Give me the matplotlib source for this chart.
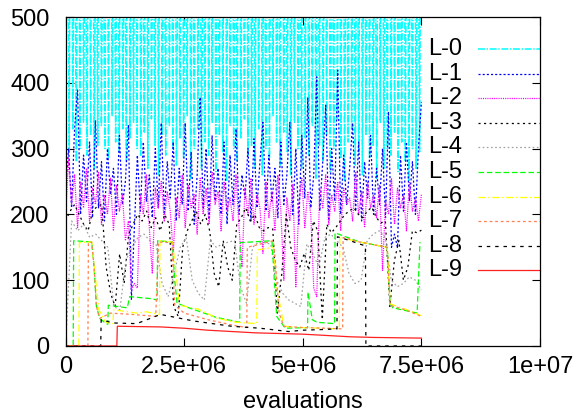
import matplotlib
matplotlib.use('Agg')
import matplotlib.pyplot as plt
import numpy as np

plt.rcParams['font.family'] = ['Liberation Sans', 'DejaVu Sans']
plt.rcParams['lines.scale_dashes'] = False

# ---------------- data ----------------
labels = ['L-0', 'L-1', 'L-2', 'L-3', 'L-4', 'L-5', 'L-6', 'L-7', 'L-8', 'L-9']
x_end = 7.5e6

L0 = [310, 820, 295, 1100, 330, 760, 280, 950, 300, 1300, 340, 700, 290, 880, 320, 1050, 270, 760, 305, 1200,
      335, 690, 300, 940, 285, 1150, 350, 780, 310, 860, 295, 1000, 330, 720, 280, 1250, 315, 800, 340, 930,
      300, 1080, 290, 750, 325, 980, 270, 1180, 345, 710, 305, 890, 260, 1020, 320, 770, 290, 1300, 335, 840,
      300, 960, 275, 730, 315, 1100, 285, 820, 350, 990, 255, 760, 300, 1220, 330, 880, 270, 700, 310, 1040,
      290, 800, 340, 1150, 265, 750, 320, 930, 295, 1280, 250, 810, 335, 980, 300, 720, 280, 1060, 315, 870,
      345, 940, 290, 1190, 305, 760, 270, 890, 330, 1010, 260, 740, 300, 1230, 285, 830, 350, 970, 310, 700,
      275, 1120, 325, 850, 295, 960, 260, 780, 340, 1070, 300, 720, 270, 1260, 315, 890, 290, 800, 335, 1000,
      255, 760, 305, 1150, 280, 870, 320, 940, 265, 710, 300, 1090, 345, 830, 285, 980, 250, 760, 310, 1200,
      330, 880, 275, 730, 295, 1030, 260, 810, 320, 950, 285, 1170, 305, 740, 255, 900, 340, 1010, 270, 780,
      300, 1240, 290, 850, 325, 960, 265, 720, 310, 1080, 280, 900, 250, 800, 300, 1000, 270, 760, 295, 900]

L1 = [240, 300, 210, 330, 389, 200, 290, 220, 310, 195,
      343, 210, 280, 190, 300, 230, 270, 200, 320, 215,
      250, 336, 70, 180, 290, 205, 310, 220, 260, 195,
      300, 210, 339, 200, 280, 225, 310, 190, 270, 215,
      339, 205, 295, 185, 260, 378, 210, 300, 195, 320,
      220, 270, 200, 310, 185, 290, 215, 330, 200, 260,
      225, 300, 190, 315, 210, 280, 340, 205, 290, 220,
      270, 195, 310, 215, 260, 340, 200, 300, 185, 320,
      225, 377, 210, 260, 409, 205, 280, 366, 190, 300,
      220, 419, 200, 290, 215, 270, 339, 205, 310, 190,
      280, 225, 320, 200, 270, 215, 300, 195, 356, 150,
      170, 150, 290, 205, 310, 220, 280, 200, 300, 371]

L2 = [200, 285, 215, 260, 180, 250, 210, 270, 190, 240,
      215, 265, 185, 230, 200, 255, 175, 245, 205, 230,
      160, 190, 85, 95, 88, 230, 200, 260, 180, 110,
      240, 210, 250, 190, 235, 205, 141, 225, 195, 260,
      180, 245, 210, 230, 170, 255, 200, 240, 185, 265,
      215, 235, 175, 250, 205, 225, 190, 260, 180, 120,
      240, 200, 255, 185, 230, 210, 141, 250, 195, 235,
      175, 260, 205, 100, 225, 190, 245, 90, 215, 255,
      180, 235, 200, 88, 75, 240, 210, 260, 185, 230,
      205, 250, 175, 240, 215, 225, 190, 265, 200, 235,
      180, 250, 210, 230, 195, 245, 115, 220, 200, 255,
      185, 240, 210, 230, 175, 250, 205, 225, 190, 230]

L3 = [190, 205, 215, 200, 185, 175, 205, 212, 215, 120,
      80, 60, 140, 95, 170, 185, 200, 190, 205, 180,
      195, 175, 200, 185, 60, 45, 150, 175, 190, 205,
      185, 200, 175, 110, 90, 160, 120, 100, 185, 195,
      210, 190, 200, 180, 175, 180, 178, 50, 110, 200,
      150, 130, 120, 141, 115, 190, 175, 40, 185, 172,
      180, 190, 200, 205, 210, 200, 195, 205, 211, 195,
      187, 190, 60, 130, 160, 100, 120, 175, 172, 176]

L4 = [0, 190, 175, 185, 165, 170, 160, 150, 60, 55,
      130, 150, 165, 170, 160, 155, 95, 75, 110, 150,
      165, 100, 80, 70, 160, 150, 155, 158, 160, 90,
      65, 150, 158, 157, 155, 100, 80, 70, 65, 60,
      155, 140, 120, 165, 170, 160, 150, 110, 95, 100,
      160, 170, 175, 165, 100, 90, 95, 105, 100, 85]

L5_x = [0, 0.16e6, 0.17e6, 0.55e6, 0.6e6, 0.65e6, 0.72e6, 0.85e6, 0.89e6, 0.9e6, 1.3e6, 1.35e6, 1.8e6,
        1.93e6, 1.94e6, 2.25e6, 2.3e6, 2.35e6, 2.6e6, 3.0e6, 3.15e6, 3.67e6, 3.68e6, 4.35e6, 4.4e6,
        4.45e6, 4.63e6, 5.1e6, 5.11e6, 5.2e6, 5.3e6, 5.67e6, 5.68e6, 6.2e6, 6.78e6, 6.84e6, 6.9e6,
        7.41e6, 7.47e6]
L5_y = [0, 0, 160, 158, 120, 60, 42, 34, 33, 62, 58, 75, 72, 70, 160, 158, 100, 65, 58, 48, 44, 36, 157,
        160, 100, 45, 27, 28, 82, 40, 36, 34, 172, 158, 150, 65, 58, 50, 158]

L6_x = [0, 0.28e6, 0.29e6, 0.55e6, 0.62e6, 0.7e6, 0.85e6, 1.0e6, 1.01e6, 1.5e6, 1.7e6, 1.98e6, 1.99e6,
        2.25e6, 2.33e6, 2.4e6, 2.8e6, 3.2e6, 3.6e6, 4.03e6, 4.04e6, 4.38e6, 4.45e6, 4.6e6, 5.0e6,
        5.4e6, 5.77e6, 5.78e6, 6.2e6, 6.78e6, 6.84e6, 7.2e6, 7.5e6]
L6_y = [0, 0, 157, 158, 110, 55, 36, 34, 55, 50, 52, 48, 160, 158, 110, 62, 56, 42, 36, 34, 146, 150,
        90, 30, 28, 27, 26, 165, 158, 150, 64, 55, 46]

L7_x = [0, 0.47e6, 0.48e6, 0.55e6, 0.6e6, 0.65e6, 0.72e6, 0.95e6, 1.4e6, 1.9e6, 1.96e6, 2.24e6, 2.3e6,
        2.5e6, 3.0e6, 3.5e6, 3.82e6, 3.83e6, 4.38e6, 4.42e6, 4.5e6, 4.6e6, 5.0e6, 5.5e6, 5.84e6,
        5.85e6, 6.2e6, 6.78e6, 6.84e6, 7.2e6, 7.5e6]
L7_y = [0, 0, 157, 158, 120, 60, 42, 50, 48, 45, 158, 157, 62, 50, 40, 32, 28, 150, 160, 130, 50, 30,
        28, 27, 26, 165, 158, 150, 62, 54, 45]

L8_x = [0, 0.74e6, 0.75e6, 1.0e6, 1.5e6, 2.0e6, 2.7e6, 3.5e6, 4.1e6, 4.7e6, 5.0e6, 5.4e6, 5.72e6,
        5.73e6, 6.0e6, 6.32e6, 6.33e6, 7.5e6]
L8_y = [0, 0, 40, 35, 34, 48, 38, 30, 27, 22, 24, 25, 26, 166, 160, 152, 0, 0]

L9_x = [0, 1.08e6, 1.09e6, 2.0e6, 2.5e6, 3.0e6, 3.5e6, 4.0e6, 4.5e6, 5.0e6, 5.5e6, 6.0e6, 6.5e6,
        7.0e6, 7.5e6]
L9_y = [0, 0, 30, 29, 27, 24, 22, 20, 19, 18, 16, 14, 13, 12.5, 12]

x_ticks = [0, 2.5e6, 5e6, 7.5e6, 1e7]
x_tick_labels = ['0', '2.5e+06', '5e+06', '7.5e+06', '1e+07']
y_ticks = [0, 100, 200, 300, 400, 500]

# ---------------- styles ----------------
styles = [
    dict(color='#00ffff', dashes=(5, 1.2, 1, 1.2)),
    dict(color='#0000ff', dashes=(1.5, 1.5)),
    dict(color='#ff00ff', dashes=(0.8, 0.8)),
    dict(color='#000000', dashes=(1.5, 2.5)),
    dict(color='#a0a0a0', dashes=(1.2, 1.8)),
    dict(color='#00ff00', dashes=(4, 2)),
    dict(color='#ffff00', dashes=(5, 2, 1, 2)),
    dict(color='#ff7f50', dashes=(2, 2)),
    dict(color='#000000', dashes=(2.5, 3.5)),
    dict(color='#ff2020', linestyle='-'),
]
widths = [1.1, 0.9, 0.9, 0.9, 0.9, 0.9, 0.9, 0.9, 0.9, 0.9]

series = [
    (np.linspace(0, x_end, len(L0)), L0),
    (np.linspace(0, x_end, len(L1)), L1),
    (np.linspace(0, x_end, len(L2)), L2),
    (np.linspace(0, x_end, len(L3)), L3),
    (np.linspace(0, x_end, len(L4)), L4),
    (L5_x, L5_y),
    (L6_x, L6_y),
    (L7_x, L7_y),
    (L8_x, L8_y),
    (L9_x, L9_y),
]

fig = plt.figure(figsize=(5.78, 4.2), dpi=100)
ax = fig.add_axes([65.6 / 578, 1 - 346 / 420, 474.4 / 578, 329 / 420])

for (xs, ys), st, w in zip(series, styles, widths):
    ax.plot(xs, ys, lw=w, **st)

ax.set_xlim(0, 1e7)
ax.set_ylim(0, 500)
ax.set_xticks(x_ticks)
ax.set_xticklabels(x_tick_labels)
ax.set_yticks(y_ticks)
ax.tick_params(direction='in', length=6, width=0.8, top=True, right=True, labelsize=17)
ax.tick_params(axis='x', pad=7.5)
ax.tick_params(axis='y', pad=11.5)
for s in ax.spines.values():
    s.set_linewidth(0.9)
ax.set_xlabel('evaluations', fontsize=17, labelpad=9)

# key (gnuplot style: text then sample)
for k, (lab, st, w) in enumerate(zip(labels, styles, widths)):
    py = 49 + 24.6 * k
    yy = (346 - py) / 329
    ax.text(0.836, yy, lab, transform=ax.transAxes, ha='right', va='center', fontsize=17)
    ax.plot([0.8693, 1.0], [yy, yy], transform=ax.transAxes, lw=w, clip_on=False, **st)

fig.savefig('out.png', dpi=100)
